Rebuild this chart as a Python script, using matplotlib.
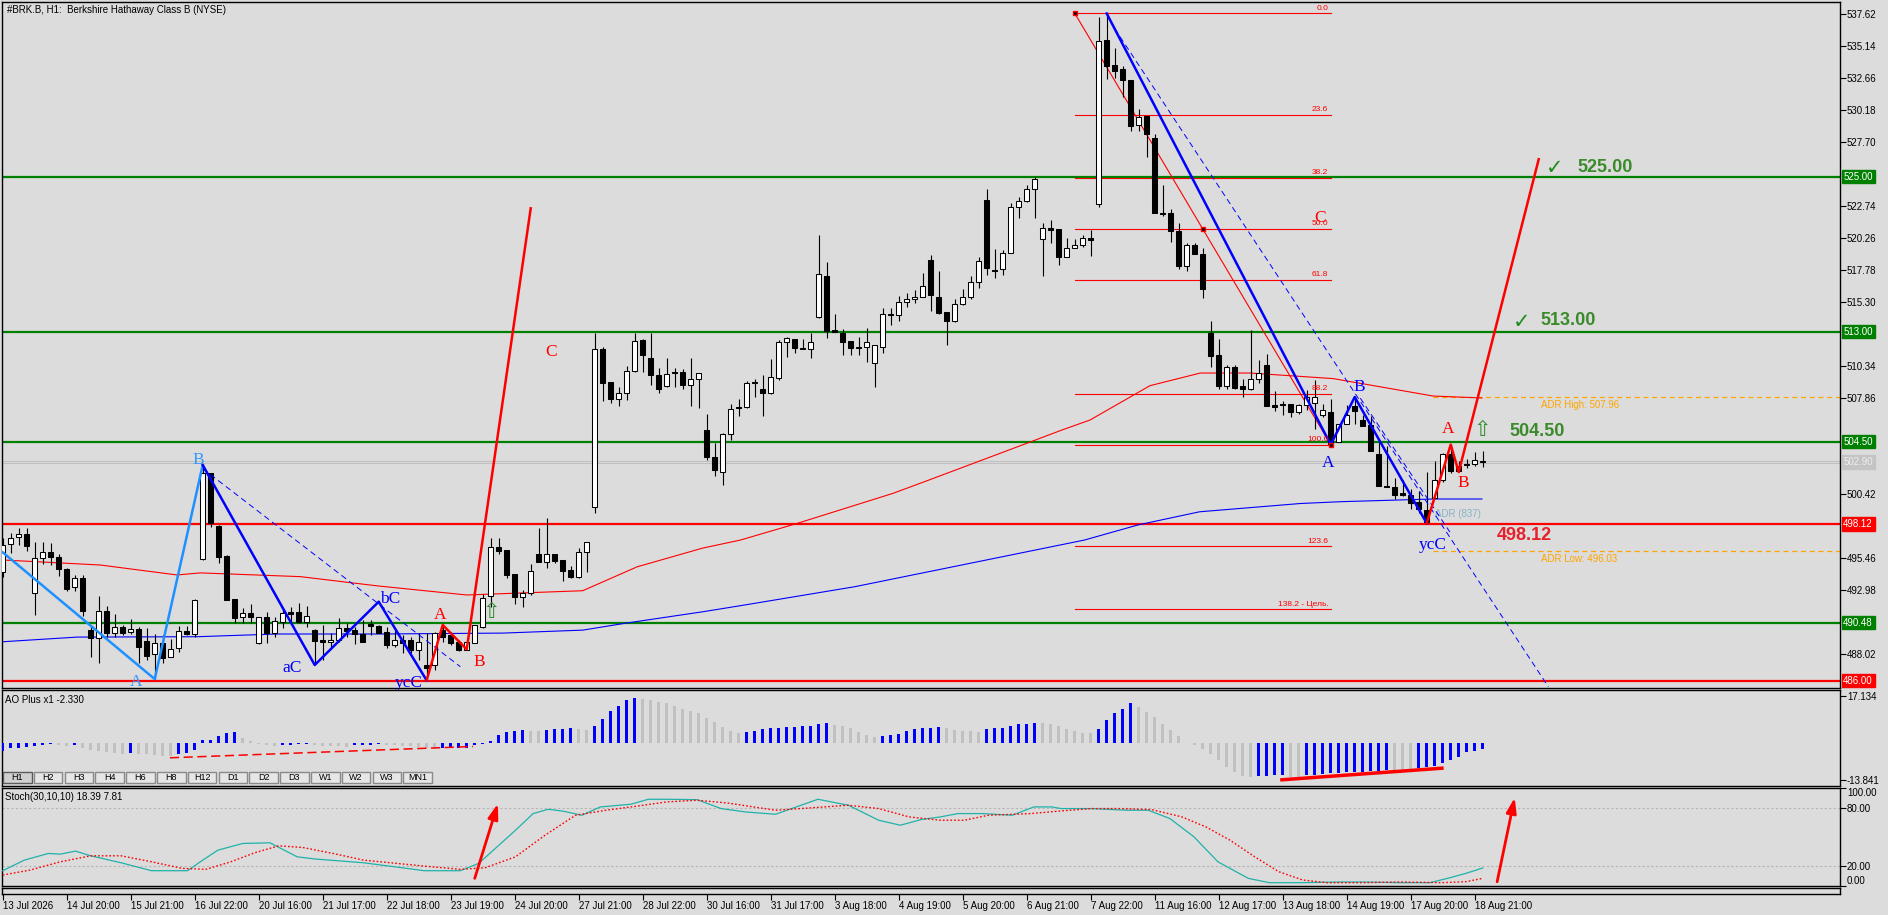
import matplotlib
matplotlib.use("Agg")
import matplotlib.pyplot as plt
from matplotlib.patches import Rectangle
import numpy as np

plt.rcParams["font.family"] = ["Liberation Sans", "DejaVu Sans"]

W, H = 1888, 915
BG = "#DCDCDC"

# --- Свечи H1 (open / high / low / close) ---
opens = [494.40, 496.55, 497.09, 497.32, 492.75, 495.46, 495.93, 495.54, 494.61, 493.20,
         493.90, 489.89, 489.27, 491.41, 489.70, 490.12, 489.78, 489.97, 489.06, 488.03,
         488.88, 487.80, 488.50, 489.84, 489.58, 495.38, 502.04, 497.96, 495.60, 492.30,
         490.90, 491.20, 488.88, 490.95, 489.70, 490.56, 491.30, 491.28, 490.56, 489.90,
         489.14, 488.96, 489.14, 490.04, 489.90, 489.60, 490.35, 490.22, 489.78, 488.75,
         489.13, 489.13, 488.40, 487.20, 487.20, 489.90, 489.50, 489.00, 488.40, 488.93,
         490.12, 492.54, 496.30, 496.10, 494.24, 492.44, 492.80, 495.79, 495.15, 495.79,
         495.30, 494.55, 494.04, 495.92, 499.40, 511.63, 509.08, 507.76, 508.28, 509.98,
         512.35, 510.93, 509.65, 508.80, 509.90, 509.90, 508.87, 509.30, 505.39, 503.27,
         502.16, 505.05, 507.14, 507.14, 509.10, 508.60, 508.29, 509.40, 512.23, 512.40,
         511.72, 511.64, 514.12, 517.32, 513.10, 512.93, 512.30, 511.80, 511.80, 510.56,
         511.85, 514.38, 514.30, 515.33, 515.50, 515.67, 518.56, 515.67, 514.56, 513.86,
         515.15, 515.67, 516.88, 523.20, 517.78, 517.84, 519.12, 522.63, 523.15, 524.03,
         520.16, 521.01, 520.93, 518.76, 519.46, 519.72, 520.23, 522.89, 535.55, 533.65,
         533.30, 532.46, 529.00, 529.69, 528.03, 522.20, 522.15, 520.76, 518.08, 519.74,
         518.99, 512.90, 511.17, 508.82, 510.26, 508.76, 508.60, 509.32, 510.42, 507.30,
         507.44, 507.38, 506.75, 507.30, 507.49, 506.55, 506.75, 504.45, 505.83, 507.21,
         506.19, 505.78, 503.51, 501.08, 500.94, 500.50, 500.39, 499.83, 499.20, 500.11,
         501.49, 503.57, 502.60, 502.79, 502.79, 503.01]
highs = [497.00, 497.40, 497.78, 497.78, 496.75, 496.70, 496.62, 495.80, 494.70, 494.20,
         494.17, 490.22, 492.55, 491.77, 491.15, 490.30, 490.74, 490.12, 490.04, 489.58,
         489.50, 489.20, 490.20, 490.20, 492.30, 502.70, 502.10, 498.00, 495.70, 492.30,
         491.60, 491.90, 490.95, 491.33, 490.95, 491.60, 491.72, 491.98, 491.80, 489.95,
         490.30, 489.66, 490.82, 490.43, 490.17, 490.69, 490.69, 490.30, 490.17, 489.90,
         489.52, 489.40, 489.65, 489.65, 489.78, 490.30, 489.78, 489.13, 489.13, 490.30,
         492.70, 497.00, 497.00, 496.10, 494.24, 493.00, 495.00, 497.78, 498.55, 495.79,
         495.30, 494.90, 496.23, 496.70, 512.87, 511.80, 509.08, 508.70, 510.34, 512.87,
         512.40, 512.87, 510.16, 511.00, 510.16, 510.08, 511.00, 509.77, 506.60, 504.40,
         505.13, 507.40, 507.76, 509.20, 509.30, 509.66, 510.87, 512.36, 512.62, 512.40,
         512.40, 512.93, 520.49, 518.43, 514.38, 513.19, 512.30, 512.57, 513.27, 511.98,
         514.80, 514.80, 515.77, 516.03, 516.24, 517.52, 518.94, 517.73, 514.56, 515.51,
         516.29, 517.32, 518.81, 524.03, 519.38, 519.33, 522.99, 523.41, 524.36, 525.00,
         521.44, 521.65, 520.93, 520.23, 520.16, 520.49, 520.88, 537.34, 537.62, 534.95,
         533.60, 532.46, 530.25, 529.69, 528.30, 524.36, 522.50, 521.40, 519.88, 519.88,
         519.46, 513.85, 512.47, 510.42, 510.42, 509.32, 513.10, 510.81, 511.25, 508.40,
         507.66, 507.38, 507.38, 508.48, 509.23, 507.38, 507.77, 505.83, 507.30, 508.04,
         506.55, 506.47, 504.45, 504.12, 501.68, 501.49, 500.80, 500.66, 502.13, 503.01,
         503.62, 504.34, 503.01, 503.15, 503.70, 503.79]
lows = [494.00, 495.85, 496.50, 496.06, 491.08, 495.00, 494.94, 494.10, 492.96, 492.96,
        491.00, 487.80, 487.39, 489.40, 489.35, 489.55, 489.60, 487.39, 487.60, 486.10,
        487.39, 487.80, 488.24, 489.50, 489.40, 495.30, 497.86, 495.13, 492.20, 490.48,
        490.48, 490.48, 488.83, 488.88, 489.40, 490.04, 490.56, 490.48, 490.17, 487.20,
        487.60, 488.50, 489.00, 489.40, 488.83, 489.00, 489.53, 489.65, 488.50, 488.62,
        488.10, 488.10, 487.60, 486.04, 486.80, 489.00, 488.75, 488.30, 488.36, 488.88,
        490.04, 491.72, 495.79, 493.90, 491.92, 491.70, 492.60, 495.15, 494.68, 495.07,
        493.70, 493.90, 493.90, 494.42, 499.00, 507.60, 507.50, 507.25, 507.70, 509.90,
        509.90, 508.87, 508.28, 508.70, 508.70, 508.54, 507.25, 507.07, 503.07, 501.83,
        501.13, 504.60, 506.47, 507.07, 507.98, 506.48, 508.19, 509.27, 511.02, 511.33,
        511.64, 510.94, 514.04, 512.50, 513.00, 511.20, 511.20, 511.20, 510.69, 508.70,
        511.33, 513.50, 513.86, 514.95, 515.20, 515.67, 514.64, 514.38, 511.98, 513.78,
        515.07, 515.51, 516.36, 517.40, 517.14, 517.40, 519.07, 521.78, 523.07, 521.78,
        517.32, 519.90, 518.17, 518.76, 519.46, 519.59, 518.86, 522.68, 532.58, 532.60,
        531.20, 528.50, 528.50, 526.50, 522.15, 521.95, 519.93, 517.89, 517.72, 519.00,
        515.59, 510.26, 508.60, 508.54, 508.60, 507.93, 508.49, 509.04, 507.21, 506.88,
        506.55, 506.39, 506.66, 506.94, 505.45, 506.39, 504.06, 504.45, 505.83, 505.83,
        505.72, 503.79, 501.02, 500.94, 500.03, 500.30, 499.28, 499.00, 498.10, 500.11,
        501.35, 502.04, 502.24, 502.46, 502.60, 502.51]
closes = [496.50, 497.06, 497.32, 496.44, 495.46, 495.93, 495.54, 494.61, 493.10, 493.90,
          491.41, 489.27, 491.41, 489.70, 490.12, 489.70, 489.97, 488.57, 487.90, 488.88,
          487.72, 488.42, 489.84, 489.58, 492.24, 502.04, 498.17, 495.59, 492.24, 490.87,
          491.20, 490.95, 490.95, 489.70, 490.60, 491.20, 491.15, 490.56, 491.00, 489.09,
          489.00, 489.14, 490.04, 489.86, 489.60, 489.00, 490.23, 489.70, 488.75, 489.13,
          488.90, 488.36, 489.00, 486.94, 489.70, 489.40, 488.90, 488.36, 489.00, 490.30,
          492.36, 496.30, 496.05, 494.17, 492.44, 492.80, 494.50, 495.15, 495.79, 495.27,
          494.50, 494.04, 495.92, 496.70, 511.63, 509.00, 507.76, 508.28, 509.98, 512.30,
          511.20, 509.65, 508.60, 509.70, 509.77, 508.87, 509.30, 509.77, 503.27, 502.30,
          505.05, 506.99, 507.07, 509.05, 509.00, 508.29, 509.47, 512.23, 512.54, 511.72,
          511.64, 512.18, 517.47, 513.09, 513.00, 512.23, 511.72, 511.70, 512.18, 511.98,
          514.38, 514.27, 515.33, 515.50, 515.67, 516.54, 515.85, 514.43, 513.86, 515.15,
          515.67, 516.88, 518.50, 517.91, 517.73, 519.12, 522.63, 523.15, 524.03, 524.85,
          521.01, 520.88, 518.76, 519.46, 519.72, 520.23, 520.10, 535.53, 533.60, 533.20,
          532.45, 528.95, 529.61, 528.30, 522.15, 522.10, 520.76, 518.08, 519.74, 519.00,
          516.28, 511.08, 508.82, 510.26, 508.68, 508.60, 509.32, 509.79, 507.21, 507.16,
          507.30, 506.75, 507.30, 507.93, 507.93, 506.94, 504.34, 505.83, 506.55, 506.88,
          505.72, 503.79, 501.02, 500.94, 500.39, 500.39, 499.75, 499.28, 498.26, 501.49,
          503.57, 502.24, 502.24, 502.68, 503.07, 502.88]

# --- Скользящие средние (опорные точки: номер бара, цена) ---
red_ma_x = [0, 12.2, 21.8, 24.7, 37.2, 46.9, 58.0, 72.5, 79.3, 87.5, 92.2, 99.3, 111.3, 115.7,
            128.0, 132.4, 135.9, 143.4, 149.7, 155.9, 166.3, 178.8, 184.9]
red_ma_y = [495.33, 494.94, 494.17, 494.33, 494.04, 493.32, 492.62, 492.95, 494.80, 496.25, 496.87,
            498.16, 500.49, 501.50, 504.36, 505.39, 506.16, 508.82, 509.80, 509.80, 509.37, 508.02, 507.87]
blue_ma_x = [0, 9.3, 24.3, 34.3, 47.2, 62.5, 72.5, 78.0, 87.5, 92.2, 106.5, 120.9, 135.2, 141.9,
             149.6, 162.2, 167.2, 178.8, 184.9]
blue_ma_y = [489.00, 489.36, 489.39, 489.60, 489.60, 489.67, 489.90, 490.45, 491.32, 491.79, 493.26,
             495.07, 496.87, 498.04, 499.06, 499.70, 499.84, 500.05, 500.05]

# --- AO Plus ---
ao_vals = [-3.2, -2.2, -2.0, -1.7, -1.35, -1.0, -0.6, -1.0, -1.35, -1.0,
           -2.0, -2.8, -3.2, -3.6, -3.8, -4.3, -4.0, -4.1, -4.3, -4.5,
           -4.8, -5.0, -4.3, -3.8, -2.9, 0.9, 1.1, 2.3, 3.6, 3.9,
           1.7, 0.4, -0.4, -1.0, -1.35, -1.1, -0.9, -0.7, -0.5, -1.0,
           -1.2, -1.35, -1.4, -1.5, -1.1, -1.0, -0.9, -0.7, -1.0, -1.1,
           -1.2, -1.35, -1.5, -2.0, -2.3, -2.2, -2.1, -2.0, -1.9, -1.1,
           -0.4, 0.6, 2.6, 3.8, 4.4, 4.5, 4.4, 4.2, 4.5, 4.8,
           5.0, 5.3, 4.8, 4.5, 6.0, 8.7, 11.5, 13.6, 15.6, 16.5,
           16.1, 15.6, 15.0, 14.4, 13.4, 12.4, 11.5, 10.7, 9.1, 7.5,
           5.8, 4.2, 3.6, 3.8, 4.2, 4.8, 5.2, 5.4, 5.8, 5.9,
           6.0, 6.1, 7.0, 7.1, 6.6, 6.0, 5.2, 3.9, 2.9, 2.2,
           2.4, 2.8, 3.3, 4.2, 5.0, 5.2, 5.4, 5.8, 5.4, 4.5,
           4.4, 4.2, 3.8, 4.8, 5.2, 5.4, 6.0, 6.8, 7.0, 7.2,
           7.1, 6.9, 6.0, 4.8, 4.2, 3.6, 3.5, 5.0, 8.2, 10.7,
           12.4, 14.4, 13.1, 11.4, 9.5, 7.0, 4.5, 2.3, -0.1, -0.9,
           -2.3, -4.4, -6.6, -9.0, -10.8, -12.4, -12.6, -12.3, -12.2, -12.1,
           -11.8, -12.6, -12.7, -12.0, -11.8, -11.5, -11.3, -11.1, -10.9, -10.8,
           -10.7, -10.5, -10.4, -10.2, -10.3, -10.35, -10.4, -9.5, -9.1, -8.6,
           -7.6, -6.3, -5.3, -3.6, -3.2, -2.33]

# --- Stoch(30,10,10) ---
st_main_x = [0, 2.7, 5.7, 7.2, 9.1, 11.0, 14.8, 18.6, 23.1, 24.7, 26.9, 30.0, 33.4, 36.8, 39.1,
             45.1, 48.9, 52.7, 57.2, 59.5, 61.8, 64.1, 66.3, 68.2, 70.1, 72.4, 74.7, 78.5, 80.7,
             83.0, 86.8, 89.8, 92.8, 96.6, 101.9, 105.7, 109.5, 112.2, 114.8, 117.2, 119.4, 122.5,
             126.2, 128.9, 131.1, 132.3, 136.1, 140.6, 143.2, 145.9, 148.9, 151.9, 155.7, 158.3,
             162.5, 167.0, 170.1, 174.6, 178.4, 180.6, 182.9, 185]
st_main_y = [15.6, 26.4, 33.2, 32.5, 35.6, 30.8, 23.7, 15.6, 15.6, 24.7, 36.6, 43.4, 44.1, 29.8, 27.5,
             23.7, 19.7, 15.6, 15.6, 23.1, 40.0, 56.9, 73.9, 78.3, 76.3, 72.2, 80.7, 83.4, 88.5,
             88.5, 88.1, 79.0, 75.6, 73.2, 88.5, 82.4, 67.1, 62.0, 67.8, 70.5, 73.9, 73.9,
             72.2, 80.7, 80.7, 79.0, 79.0, 77.3, 77.3, 68.8, 50.2, 24.7, 7.8, 3.4,
             3.4, 4.1, 4.1, 3.4, 3.4, 7.8, 12.9, 18.39]
st_sig_x = [0, 3.45, 7.2, 11.0, 14.8, 18.6, 22.4, 25.4, 28.5, 31.5, 34.5, 37.5, 41.3, 45.1, 52.7,
            57.2, 60.3, 64.1, 67.8, 71.6, 75.4, 79.2, 83.0, 86.8, 90.6, 96.6, 99.7, 105.7, 109.5,
            113.3, 117.2, 120.2, 123.2, 128.5, 132.3, 136.1, 139.8, 143.6, 147.4, 150.4, 153.4,
            156.5, 159.5, 162.5, 165.5, 170.1, 174.6, 179.9, 182.9, 185]
st_sig_y = [11.2, 16.3, 24.7, 30.8, 30.8, 24.7, 18.0, 17.0, 24.7, 33.9, 41.0, 39.3, 33.2, 26.4, 20.3,
            17.0, 18.6, 29.8, 51.9, 72.2, 77.3, 81.4, 85.8, 87.5, 84.7, 77.3, 79.0, 82.4, 79.0,
            70.5, 67.1, 67.1, 72.2, 73.9, 76.6, 79.0, 79.0, 78.0, 70.5, 60.3, 46.8,
            29.8, 14.6, 6.1, 3.4, 3.4, 4.1, 3.4, 4.4, 7.81]

# --- Уровни и подписи ---
green_levels = [525.00, 513.00, 504.50, 490.48]
red_levels = [498.12, 486.00]
last_price = 502.90
adr_high, adr_low = 507.96, 496.03
fib_hi, fib_lo = 537.65, 504.26
fib_pct = [0.0, 23.6, 38.2, 50.0, 61.8, 88.2, 100.0, 123.6, 138.2]

x_tick_labels = ["13 Jul 2026", "14 Jul 20:00", "15 Jul 21:00", "16 Jul 22:00", "20 Jul 16:00",
                 "21 Jul 17:00", "22 Jul 18:00", "23 Jul 19:00", "24 Jul 20:00", "27 Jul 21:00",
                 "28 Jul 22:00", "30 Jul 16:00", "31 Jul 17:00", "3 Aug 18:00", "4 Aug 19:00",
                 "5 Aug 20:00", "6 Aug 21:00", "7 Aug 22:00", "11 Aug 16:00", "12 Aug 17:00",
                 "13 Aug 18:00", "14 Aug 19:00", "17 Aug 20:00", "18 Aug 21:00"]
tf_buttons = ["H1", "H2", "H3", "H4", "H6", "H8", "H12", "D1", "D2", "D3", "W1", "W2", "W3", "MN1"]

o = np.array(opens); h = np.array(highs); l = np.array(lows); c = np.array(closes)
idx = np.arange(len(c))
XLIM = (-0.09, 229.66)

fig = plt.figure(figsize=(W / 100, H / 100), dpi=100, facecolor=BG)


def panel(top, bottom):
    a = fig.add_axes([2 / W, 1 - bottom / H, 1838 / W, (bottom - top) / H], facecolor=BG)
    a.set_xlim(*XLIM)
    a.set_xticks([])
    for s in a.spines.values():
        s.set_color("black")
        s.set_linewidth(1)
    a.yaxis.tick_right()
    a.tick_params(axis="y", direction="out", length=4, width=0.8, labelsize=7, pad=1, colors="black")
    return a


ax = panel(2, 688)
ao_ax = panel(690, 786)
st_ax = panel(788, 886)
strip = panel(888, 894)
strip.set_yticks([])

# ================= Основной график =================
ax.set_ylim(485.42, 538.52)
tags = green_levels + red_levels + [last_price]
yt = [round(537.62 - 2.48 * k, 2) for k in range(22)]
yt = [v for v in yt if all(abs(v - t) > 0.9 for t in tags)]
ax.set_yticks(yt)
ax.set_yticklabels([f"{v:.2f}" for v in yt])

for lv in green_levels:
    ax.axhline(lv, color="#008000", lw=1.6, zorder=1.5)
for lv in red_levels:
    ax.axhline(lv, color="#FF0000", lw=1.6, zorder=1.5)
ax.axhline(last_price + 0.07, color="#C0C0C0", lw=0.8, zorder=1.4)
ax.axhline(last_price - 0.06, color="#C0C0C0", lw=0.8, zorder=1.4)


def tag(a, y, text, fc, tc="white"):
    a.text(1.0018, y, text, transform=a.get_yaxis_transform(), ha="left", va="center",
           fontsize=7, color=tc, clip_on=False, zorder=10,
           bbox=dict(boxstyle="square,pad=0.18", fc=fc, ec=fc))


for lv in green_levels:
    tag(ax, lv, f"{lv:.2f}", "#008000")
for lv in red_levels:
    tag(ax, lv, f"{lv:.2f}", "#FF0000")
tag(ax, last_price, f"{last_price:.2f}", "#C4C4C4", "#EEEEEE")

# ADR
ax.plot([178.8, XLIM[1]], [adr_high, adr_high], color="#FFA500", lw=0.9, ls=(0, (4, 3)), zorder=1.6)
ax.plot([178.8, XLIM[1]], [adr_low, adr_low], color="#FFA500", lw=0.9, ls=(0, (4, 3)), zorder=1.6)
ax.text(192.3, 507.33, f"ADR High: {adr_high:.2f}", color="#FFA500", fontsize=7, va="center")
ax.text(192.3, 495.38, f"ADR Low: {adr_low:.2f}", color="#FFA500", fontsize=7, va="center")
ax.text(179.0, 498.9, "ADR (837)", color="#86B4C4", fontsize=7, va="center")

# Скользящие
ax.plot(red_ma_x, red_ma_y, color="#FF0000", lw=0.8, zorder=2)
ax.plot(blue_ma_x, blue_ma_y, color="#0000FF", lw=0.8, zorder=2)

# Фибоначчи
for p in fib_pct:
    y = fib_hi - (fib_hi - fib_lo) * p / 100
    ax.plot([134, 166], [y, y], color="#FF0000", lw=0.8, zorder=2.2)
    lab = "138.2 - Цель." if p == 138.2 else f"{p:.1f}"
    ax.text(165.7, y + 0.12, lab, color="#FF0000", fontsize=6, ha="right", va="bottom", zorder=6)
ax.plot([134, 166], [fib_hi, fib_lo], color="#FF0000", lw=0.8, zorder=2.2)
ax.plot([134, 150, 166], [fib_hi, (fib_hi + fib_lo) / 2, fib_lo], ls="none", marker="s", ms=3.5,
        mfc="black", mec="#FF0000", mew=1, zorder=7)

# Свечи
ax.vlines(idx, l, h, color="black", lw=0.8, zorder=3)
body_lo = np.minimum(o, c)
body_h = np.maximum(np.abs(c - o), 0.04)
ax.bar(idx, body_h, bottom=body_lo, width=0.62, color=np.where(c >= o, "white", "black"),
       edgecolor="black", linewidth=0.75, zorder=4)

# Волновая разметка
ax.plot([0, 19, 25], [495.92, 486.11, 502.68], color="#1E90FF", lw=1.8, zorder=5)
ax.plot([25, 39, 47, 53], [502.68, 487.2, 492.1, 486.0], color="#0000FF", lw=1.8, zorder=5)
ax.plot([25, 57.2], [502.4, 487.07], color="#0000FF", lw=0.7, ls=(0, (6, 4)), zorder=5)
ax.plot([53, 55, 58, 66], [486.04, 490.3, 488.41, 522.55], color="#FF0000", lw=1.8, zorder=5)
ax.plot([138, 166, 169, 178], [537.63, 504.26, 507.94, 498.17], color="#0000FF", lw=1.8, zorder=5)
ax.plot([139, 193.2], [536.46, 485.52], color="#0000FF", lw=0.7, ls=(0, (6, 4)), zorder=5)
ax.plot([169.7, 180.9], [507.85, 497.49], color="#0000FF", lw=0.7, ls=(0, (6, 4)), zorder=5)
ax.plot([178, 181, 182, 192], [498.17, 504.26, 502.13, 526.35], color="#FF0000", lw=1.8, zorder=5)

serif = dict(family=["Liberation Serif", "DejaVu Serif"], fontsize=12.5, ha="center", va="center", zorder=6)
ax.text(16.7, 485.9, "A", color="#3399FF", **serif)
ax.text(24.5, 503.1, "B", color="#3399FF", **serif)
ax.text(36.2, 486.95, "aC", color="#0000FF", **serif)
ax.text(48.4, 492.3, "bC", color="#0000FF", **serif)
ax.text(50.7, 485.8, "ycC", color="#0000FF", **serif)
ax.text(54.7, 491.1, "A", color="#FF0000", **serif)
ax.text(59.6, 487.45, "B", color="#FF0000", **serif)
ax.text(68.6, 511.45, "C", color="#FF0000", **serif)
ax.text(164.7, 521.8, "C", color="#FF0000", **serif)
ax.text(165.7, 502.85, "A", color="#0000FF", **serif)
ax.text(169.6, 508.7, "B", color="#0000FF", **serif)
ax.text(178.8, 496.5, "ycC", color="#0000FF", **serif)
ax.text(180.7, 505.5, "A", color="#FF0000", **serif)
ax.text(182.6, 501.3, "B", color="#FF0000", **serif)

arrow = dict(family=["DejaVu Sans"], fontsize=15, color="#2E8B2E", ha="center", va="center", zorder=6)
ax.text(61.1, 491.3, "⇧", **arrow)
ax.text(184.9, 505.4, "⇧", **arrow)

big = dict(fontsize=13, fontweight="bold", va="center", ha="left", zorder=6)
chk = dict(family=["DejaVu Sans"], fontsize=15, color="#1E8C1E", va="center", ha="left", zorder=6)
ax.text(192.9, 525.65, "✓", **chk)
ax.text(196.9, 525.74, "525.00", color="#3B8A2B", **big)
ax.text(188.8, 513.75, "✓", **chk)
ax.text(192.2, 513.84, "513.00", color="#3B8A2B", **big)
ax.text(188.4, 505.26, "504.50", color="#3B8A2B", **big)
ax.text(186.8, 497.26, "498.12", color="#E8202A", **big)

ax.text(0.0027, 0.988, "#BRK.B, H1:  Berkshire Hathaway Class B (NYSE)", transform=ax.transAxes,
        fontsize=7, va="center", ha="left")

# ================= AO Plus =================
ao = np.array(ao_vals)
ao_col = ["#0000FF" if i == 0 or ao[i] >= ao[i - 1] else "#C0C0C0" for i in range(len(ao))]
ao_ax.bar(idx, ao, width=0.42, color=ao_col, zorder=3)
ao_ax.set_ylim(-16.04, 19.36)
ao_ax.set_yticks([17.134, -13.841])
ao_ax.set_yticklabels(["17.134", "-13.841"])
ao_ax.plot([20.9, 58.8], [-5.64, -1.47], color="#FF0000", lw=1.1, ls=(0, (6, 3)), zorder=4)
ao_ax.plot([159.9, 179.9], [-13.75, -9.48], color="#FF0000", lw=2.5, zorder=4)
ao_ax.text(0.0016, 0.896, "AO Plus x1 -2.330", transform=ao_ax.transAxes, fontsize=7, va="center")

for k, name in enumerate(tf_buttons):
    x0 = (3 + 30.8 * k - 2) / 1838
    pressed = k == 0
    ao_ax.add_patch(Rectangle((x0, 0.028), 28.5 / 1838, 0.121, transform=ao_ax.transAxes,
                              fc="#D0D0D0" if pressed else "#E6E6E6",
                              ec="#5A5A5A" if pressed else "#8A8A8A", lw=1, zorder=6))
    ao_ax.text(x0 + 14.25 / 1838, 0.088, name, transform=ao_ax.transAxes, fontsize=6.5,
               ha="center", va="center", zorder=7)

# ================= Stoch =================
st_ax.set_ylim(0, 100)
st_ax.set_yticks([100, 80, 20, 0])
st_ax.set_yticklabels(["100.00", "80.00", "20.00", "0.00"])
st_labels = st_ax.get_yticklabels()
st_labels[0].set_va("top")
st_labels[3].set_va("bottom")
for lv in (80, 20):
    st_ax.axhline(lv, color="#B4B4B4", lw=0.8, ls=(0, (2, 2)), zorder=1)
st_ax.plot(st_main_x, st_main_y, color="#20B2AA", lw=0.9, zorder=3)
st_ax.plot(st_sig_x, st_sig_y, color="#FF0000", lw=1.0, ls=(0, (1.2, 1.5)), zorder=3)
st_ax.text(0.0016, 0.908, "Stoch(30,10,10) 18.39 7.81", transform=st_ax.transAxes, fontsize=7, va="center")
for x0, y0, x1, y1 in [(59.0, 7.8, 61.9, 84.1), (186.8, 4.3, 189.0, 90.2)]:
    st_ax.annotate("", xy=(x1, y1), xytext=(x0, y0), zorder=5,
                   arrowprops=dict(arrowstyle="-|>,head_width=0.3,head_length=0.9",
                                   color="#FF0000", lw=2, shrinkA=0, shrinkB=0))

# ================= Шкала времени =================
strip.set_xticks([8 * k for k in range(len(x_tick_labels))])
strip.set_xticklabels(x_tick_labels, ha="left")
strip.tick_params(axis="x", direction="out", length=4, width=0.8, labelsize=7, pad=1)

fig.savefig("out.png", dpi=100, facecolor=BG)
plt.close(fig)
